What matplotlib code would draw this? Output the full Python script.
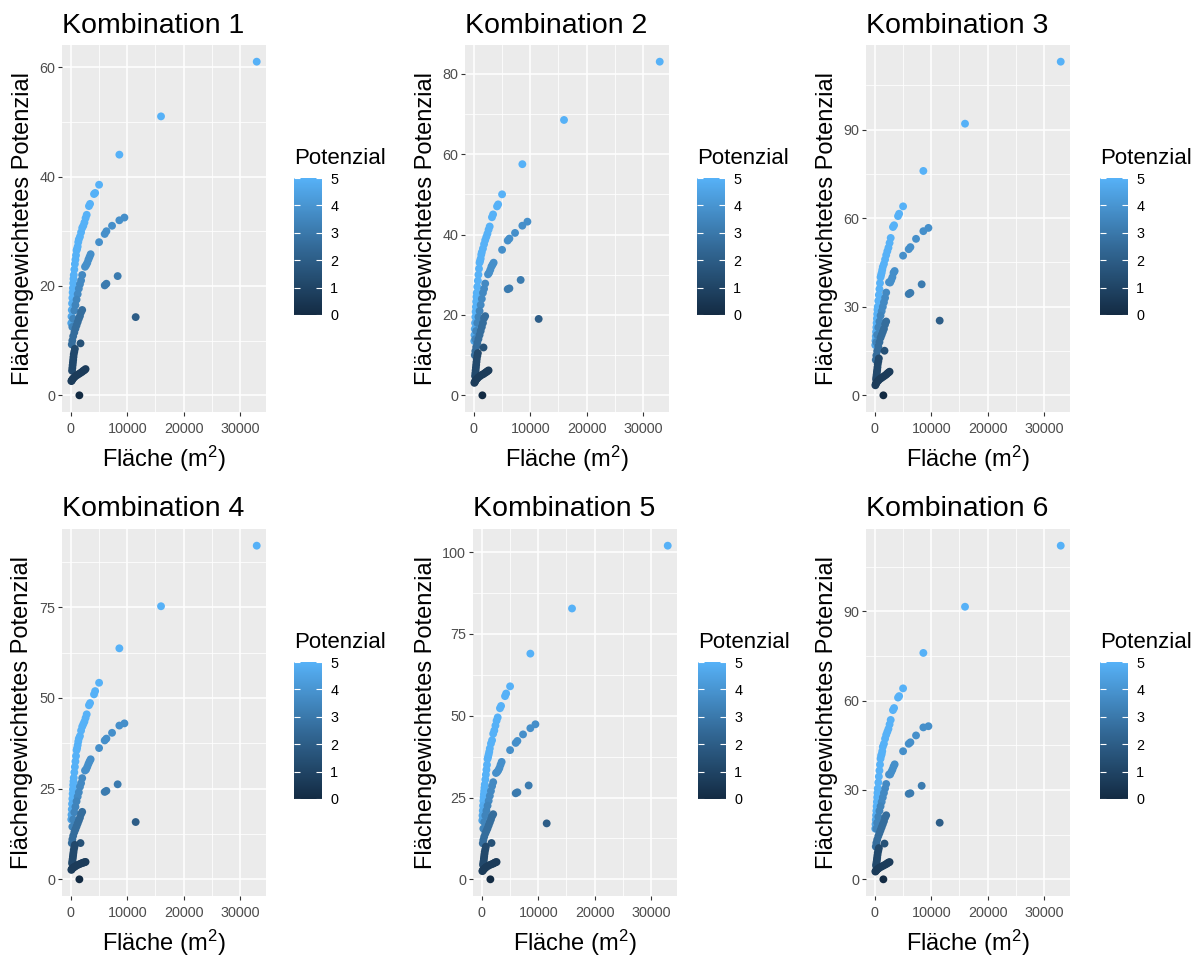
import matplotlib.pyplot as plt
import numpy as np
from matplotlib.colors import LinearSegmentedColormap, Normalize
from matplotlib.cm import ScalarMappable
from matplotlib.ticker import MultipleLocator

plt.rcParams['font.family'] = ['Liberation Sans', 'DejaVu Sans']
plt.rcParams['mathtext.fontset'] = 'custom'
plt.rcParams['mathtext.rm'] = 'Liberation Sans'
plt.rcParams['mathtext.it'] = 'Liberation Sans:italic'

# Flaeche (m2) of each point, same for all combinations
flaeche = [
    # upper light curve
    33000, 16000, 8600, 5000, 4300, 4100, 3400, 3200, 2800, 2600, 2400, 2200, 2000, 1800, 1600, 1400,
    1300, 1200, 1100, 1000, 900, 800, 700, 600, 500, 450, 400, 350, 300, 250, 200, 150, 100, 60,
    # middle curve
    9500, 8600, 7300, 6300, 6000, 5000, 3500, 3300, 3100, 2900, 2700, 2500, 2000, 1800, 1600, 1400,
    1200, 1000, 800, 600, 400, 250,
    # single points
    8300, 6300, 6000,
    11500,
    # lower curve
    2000, 1800, 1600, 1400, 1200, 1000, 800, 600, 400, 250, 150,
    1700,
    # dark strip
    700, 600, 500, 450, 400, 350, 300, 250, 200,
    # dark bottom curve
    2600, 2400, 2200, 2000, 1700, 1400, 1100, 800, 600, 400, 250, 150, 80,
    1500,
]

potenzial = ([5.0] * 30 + [4.8, 4.7, 4.6, 4.5]
             + [3.8] * 12 + [3.6] * 5 + [3.4] * 5
             + [3.1, 3.1, 3.1]
             + [2.0]
             + [2.6] * 11
             + [1.5]
             + [1.2] * 9
             + [0.7] * 13
             + [0.0])

y_k1 = [61, 51, 44, 38.5, 37, 36.8, 35, 34.6, 33, 32.4, 31.6, 31, 30.6, 29.8, 29, 28.5, 28, 27.2, 26.8, 26.5,
        25.6, 24.8, 24, 23, 22, 21.3, 20.5, 19.6, 18.8, 17.8, 16.8, 15.6, 14.4, 13.2,
        32.5, 32, 31, 30, 29.5, 28, 25.8, 25.3, 24.8, 24.2, 23.8, 23.5, 22, 21, 20.3, 19.5, 18.5, 17.5, 16.5,
        15.5, 14, 12.5,
        21.8, 20.4, 20.1,
        14.3,
        15.6, 15.2, 14.5, 14, 13.4, 12.8, 12.2, 11.5, 10.8, 10, 9.3,
        9.5,
        8.5, 8.0, 7.5, 7.0, 6.5, 6.0, 5.5, 5.0, 4.5,
        4.8, 4.6, 4.5, 4.3, 4.1, 3.9, 3.7, 3.5, 3.3, 3.1, 2.9, 2.7, 2.6,
        0]

y_k2 = [83, 68.5, 57.5, 50, 47.5, 47, 45, 44.3, 42, 41.2, 40.2, 39.4, 38.6, 37.6, 36.5, 35.6, 35, 34, 33.5, 33,
        31.5, 30, 28.5, 27, 25.5, 24.5, 23.3, 22, 20.8, 19.5, 18, 16.5, 15, 13.5,
        43.2, 42.2, 40.4, 39, 38.5, 36.2, 33, 32.5, 32, 31.2, 30.5, 30.1, 27.8, 26.5, 25.5, 24, 22.5, 21, 19.5,
        18, 16, 14,
        28.7, 26.6, 26.4,
        19.0,
        19.7, 19.2, 18, 17, 16, 15, 14, 13, 12, 11, 10,
        11.9,
        10.5, 9.8, 9.0, 8.3, 7.6, 6.9, 6.2, 5.5, 4.8,
        6.2, 6.0, 5.8, 5.6, 5.3, 5.1, 4.8, 4.5, 4.2, 3.9, 3.6, 3.3, 3.1,
        0]

y_k3 = [113, 92, 76, 64, 61.5, 60.7, 57.6, 57, 53.3, 51.6, 50, 48.8, 47.5, 46, 44.5, 43.5, 42.5, 41.5, 40.8, 40,
        38, 36, 34, 32, 30, 29, 27.5, 26, 24.5, 23, 21.5, 20, 18.5, 17,
        56.7, 55.6, 53, 50.2, 49.5, 47.3, 42.1, 41.5, 40, 39, 38.2, 38.3, 34.8, 33, 31.5, 30, 28.5, 27, 25,
        23, 20.5, 18,
        37.6, 34.7, 34.3,
        25.3,
        25, 24, 22.5, 21.5, 20.5, 19.5, 18, 16.5, 15, 13.5, 12,
        15.1,
        12.5, 11.5, 10.5, 9.5, 8.6, 7.8, 7.0, 6.2, 5.4,
        8, 7.7, 7.4, 7.0, 6.6, 6.2, 5.8, 5.4, 5.0, 4.6, 4.2, 3.8, 3.4,
        0]

y_k4 = [92, 75.3, 63.7, 54.2, 51.9, 51, 48.6, 48, 45.5, 44.5, 43.5, 42.8, 42.1, 41, 39.5, 38.8, 38, 37, 36.2, 35.6,
        34, 32.5, 31, 29.5, 28, 27, 26, 24.8, 23.6, 22.2, 20.8, 19.3, 17.8, 16.5,
        43, 42.4, 40.4, 38.8, 38.3, 36.2, 33.1, 32.5, 31.8, 31, 30.3, 30, 27.9, 26.5, 25.5, 24, 22.8, 21.5, 20,
        18.5, 16.5, 14.5,
        26.2, 24.4, 24.1,
        15.8,
        18.6, 18, 17, 16.2, 15.4, 14.6, 13.8, 13, 12, 11, 10,
        10,
        9.5, 8.8, 8.1, 7.4, 6.8, 6.2, 5.6, 5.0, 4.4,
        4.8, 4.7, 4.6, 4.5, 4.3, 4.1, 3.9, 3.6, 3.4, 3.2, 3.0, 2.8, 2.6,
        0]

y_k5 = [102, 82.8, 69, 59, 56.8, 56, 53, 52.3, 49.5, 48.5, 47, 45.5, 44.5, 42.5, 41.5, 40, 39, 38.2, 37.5, 36.8,
        35, 33.5, 32, 30.5, 29, 28, 27, 26, 25, 24, 22.5, 21, 19.5, 18,
        47.4, 46.2, 44.3, 42.3, 41.7, 39.5, 35.9, 35, 34, 33.3, 32.8, 32.5, 29.7, 28.5, 27, 25.5, 24, 22.5, 21,
        19.5, 17.5, 15.5,
        28.7, 26.6, 26.3,
        17.1,
        19.9, 19.3, 18.3, 17.4, 16.5, 15.6, 14.8, 14, 13, 12, 11,
        11.1,
        10, 9.2, 8.4, 7.7, 7.0, 6.3, 5.6, 5.0, 4.4,
        5.3, 5.2, 5.0, 4.8, 4.6, 4.4, 4.1, 3.8, 3.5, 3.2, 2.9, 2.7, 2.5,
        0]

y_k6 = [112, 91.5, 76, 64.1, 61.5, 61, 57.5, 56.8, 53.5, 52, 50.5, 49.5, 48.5, 47.2, 45.5, 44.5, 43, 42, 41.5, 40.5,
        38.5, 36.5, 34.5, 32.5, 30.5, 29, 27.5, 26, 24.5, 23, 21.5, 20, 18.5, 17,
        51.4, 51, 48.3, 46, 45.5, 43, 38.6, 37.8, 36.8, 36, 35.2, 35.2, 32, 30.5, 29, 27.5, 26, 24.5, 23,
        21, 19, 17,
        31.4, 28.9, 28.7,
        19,
        21.5, 20.7, 19.5, 18.5, 17.5, 16.5, 15.5, 14.5, 13.3, 12.2, 11,
        12,
        10.5, 9.7, 8.9, 8.1, 7.3, 6.6, 5.9, 5.2, 4.6,
        5.8, 5.6, 5.4, 5.1, 4.8, 4.5, 4.2, 3.9, 3.6, 3.3, 3.0, 2.8, 2.6,
        0]

titles = ['Kombination 1', 'Kombination 2', 'Kombination 3',
          'Kombination 4', 'Kombination 5', 'Kombination 6']
y_values = [y_k1, y_k2, y_k3, y_k4, y_k5, y_k6]
y_steps = [20, 20, 30, 25, 25, 30]
x_ticks = [0, 10000, 20000, 30000]

# ggplot default continuous colour scale
cmap = LinearSegmentedColormap.from_list('gg', ['#132B43', '#336A98', '#56B1F7'])
norm = Normalize(vmin=min(potenzial), vmax=max(potenzial))

W, H = 1201, 958
fig = plt.figure(figsize=(W / 100, H / 100), dpi=100)


def px_axes(l, t, r, b):
    return fig.add_axes([l / W, 1 - b / H, (r - l) / W, (b - t) / H])


plot_lefts = [62, 465, 866, 62, 473, 866]
cbar_lefts = [294, 697, 1100, 294, 698, 1100]
row_tops = [45, 45, 45, 529, 529, 529]

x = np.array(flaeche)
for i in range(6):
    top = row_tops[i]
    ax = px_axes(plot_lefts[i], top, plot_lefts[i] + 204, top + 367)
    y = np.array(y_values[i])

    ax.set_facecolor('#EBEBEB')
    for s in ax.spines.values():
        s.set_visible(False)
    ax.set_axisbelow(True)

    ax.scatter(x, y, c=potenzial, cmap=cmap, norm=norm, s=32, linewidths=0)

    xr = x.max() - x.min()
    ax.set_xlim(x.min() - 0.05 * xr, x.max() + 0.05 * xr)
    yr = y.max() - y.min()
    ax.set_ylim(y.min() - 0.05 * yr, y.max() + 0.05 * yr)

    ax.set_xticks(x_ticks)
    ax.set_xticklabels([str(t) for t in x_ticks])
    ax.xaxis.set_minor_locator(MultipleLocator(5000))
    ax.yaxis.set_major_locator(MultipleLocator(y_steps[i]))
    ax.yaxis.set_minor_locator(MultipleLocator(y_steps[i] / 2))
    ax.grid(which='major', color='white', linewidth=1.1)
    ax.grid(which='minor', color='white', linewidth=0.55)
    ax.tick_params(which='major', length=3, width=0.8, color='#333333',
                   labelsize=10.4, labelcolor='#4D4D4D', pad=2)
    ax.tick_params(axis='x', which='major', pad=4)
    ax.tick_params(which='minor', length=0)

    ax.set_title(titles[i], loc='left', fontsize=20.5, pad=9)
    ax.set_xlabel('Fläche (m$^2$)', fontsize=17, labelpad=6)
    ax.set_ylabel('Flächengewichtetes Potenzial', fontsize=17, labelpad=4)

    # colour bar legend
    ctop = top + 133
    cax = px_axes(cbar_lefts[i], ctop, cbar_lefts[i] + 28, ctop + 137)
    cb = fig.colorbar(ScalarMappable(norm=norm, cmap=cmap), cax=cax)
    cb.outline.set_visible(False)
    cb.set_ticks([0, 1, 2, 3, 4, 5])
    cax.tick_params(direction='in', left=True, right=True, length=4, width=0.8,
                    color='white', labelsize=10.4, labelcolor='black', pad=6)
    cax.set_title('Potenzial', loc='left', fontsize=16, pad=10)

fig.savefig('out.png', dpi=100)
